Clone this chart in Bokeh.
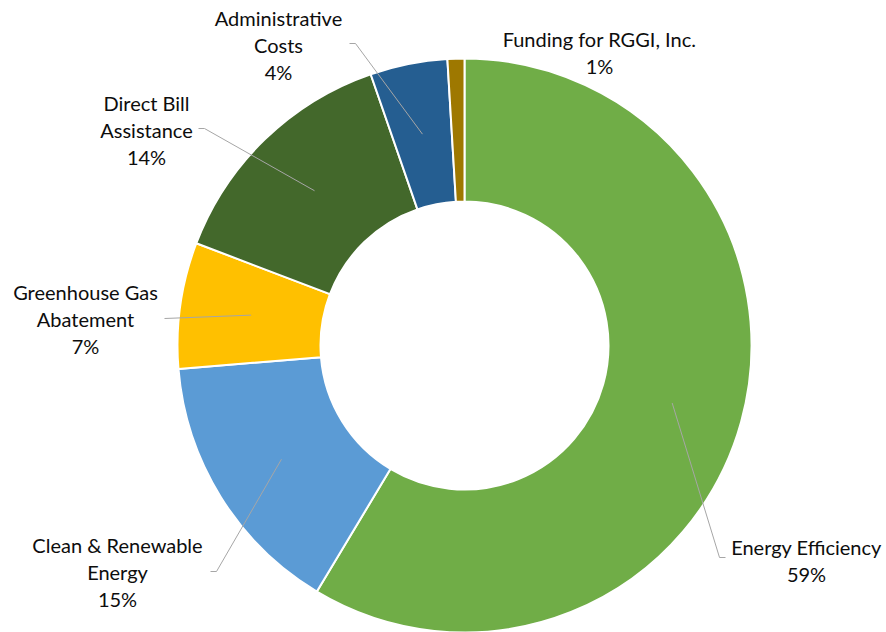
import numpy as np
from bokeh.plotting import figure
from bokeh.models import Range1d, ColumnDataSource
from bokeh.core.properties import value
from bokeh.embed import file_html
from bokeh.resources import INLINE

# ---- data ----
categories = ["Energy Efficiency", "Clean & Renewable Energy", "Greenhouse Gas Abatement",
              "Direct Bill Assistance", "Administrative Costs", "Funding for RGGI, Inc."]
shares = [58.6, 15.1, 7.1, 13.9, 4.35, 0.95]
pct_labels = ["59%", "15%", "7%", "14%", "4%", "1%"]
label_lines = [["Energy Efficiency"], ["Clean & Renewable", "Energy"], ["Greenhouse Gas", "Abatement"],
               ["Direct Bill", "Assistance"], ["Administrative", "Costs"], ["Funding for RGGI, Inc."]]
colors = ["#70AD47", "#5B9BD5", "#FFC000", "#43682B", "#255E91", "#9E7800"]

# ---- layout (image pixel coords, converted to data) ----
W, H = 886, 632
def X(px): return px
def Y(py): return H - py

cx, cy = X(464), Y(345)
r_out, r_in = 287, 144
label_pos = [(806, 546), (117, 544), (85, 291), (146, 102), (278, 17), (599, 38)]
leader_anchor = [(725, 557, -1), (210, 571, 1), (164, 318, 0), (198, 128, 1), (349, 43, 1), None]
line_h = 27.3

p = figure(width=W, height=H, output_backend="svg", toolbar_location=None,
           x_range=Range1d(0, W), y_range=Range1d(0, H), min_border=0)
p.axis.visible = False
p.grid.visible = False
p.outline_line_color = None
p.background_fill_color = "white"

fr = np.array(shares) / sum(shares)
cum = np.concatenate([[0], np.cumsum(fr)])
start = np.pi / 2 - 2 * np.pi * cum[:-1]
end = np.pi / 2 - 2 * np.pi * cum[1:]
src = ColumnDataSource(dict(start=start, end=end, color=colors))
p.annular_wedge(x=cx, y=cy, inner_radius=r_in, outer_radius=r_out, start_angle="start",
                end_angle="end", direction="clock", fill_color="color", line_color="white",
                line_width=2, source=src)

mid = (start + end) / 2
r_mid = (r_in + r_out) / 2
for i, anc in enumerate(leader_anchor):
    if anc is None:
        continue
    ax, ay, side = anc
    tx = cx + r_mid * np.cos(mid[i])
    ty = cy + r_mid * np.sin(mid[i])
    xs = [X(ax)]
    ys = [Y(ay)]
    if side != 0:
        xs.append(X(ax) + side * 6)
        ys.append(Y(ay))
    xs.append(tx)
    ys.append(ty)
    p.line(xs, ys, line_color="#A6A6A6", line_width=1)

for i in range(len(categories)):
    lx, ly = label_pos[i]
    lines = label_lines[i] + [pct_labels[i]]
    for k, t in enumerate(lines):
        p.text(x=[X(lx)], y=[Y(ly + k * line_h)], text=[t], text_font=value("Lato"),
               text_font_size="20px", text_color="#0d0d0d", text_align="center",
               text_baseline="middle")

open("out.html", "w").write(file_html(p, INLINE))
